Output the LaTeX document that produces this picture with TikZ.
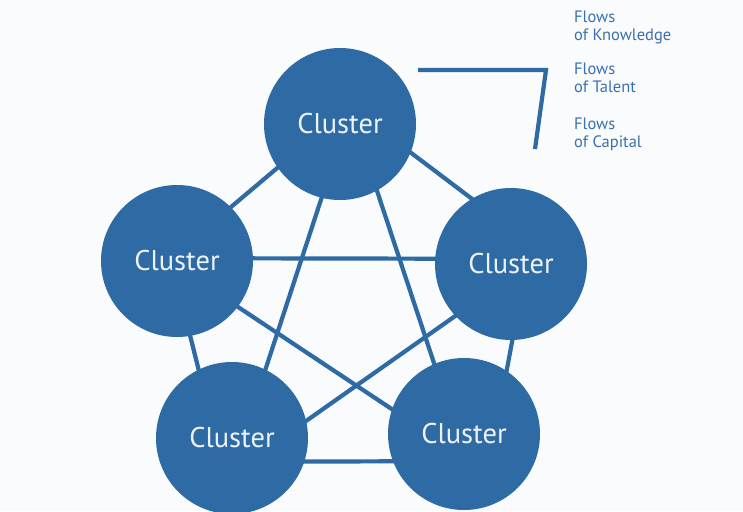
\documentclass[tikz,border=0pt]{standalone}
\usepackage{fontspec}
\setmainfont{PT Sans}
\definecolor{cluster}{HTML}{2E6AA4}
\definecolor{flowtext}{HTML}{3A70AE}
\definecolor{paper}{HTML}{FAFBFD}

\begin{document}
\begin{tikzpicture}[x=1pt,y=-1pt,
 cluster/.style={circle,fill=cluster,minimum size=152pt,inner sep=0pt,
   text=white!92!cluster,font=\fontsize{28.5}{30}\selectfont},
 link/.style={draw=cluster,line width=4.2pt,shorten <=-2pt,shorten >=-2pt},
 flows/.style={anchor=north west,inner sep=0pt,align=left,text=flowtext,
   font=\fontsize{16.5}{17.5}\selectfont}]

\useasboundingbox (0,0) rectangle (743,511);
\clip (0,0) rectangle (743,511);
\fill[paper] (0,0) rectangle (743,511);

% five clusters, the lower two run off the bottom edge
\node[cluster] (C1) at (340,124) {Cluster};
\node[cluster] (C2) at (177,261) {Cluster};
\node[cluster] (C3) at (511,264) {Cluster};
\node[cluster] (C4) at (232,438) {Cluster};
\node[cluster] (C5) at (464,434) {Cluster};

% every pair of clusters is linked; links do not run through the centres
\foreach \from/\to in {C1.215/C2.45, C1.338/C3.121, C1.256/C4.64,
    C1.299/C5.113, C2.2/C3.176, C2.280/C4.116, C2.323/C5.161,
    C3.223/C4.13, C3.271/C5.56, C4.342/C5.201}
  \draw[link] (\from) -- (\to);

% open bracket next to the legend
\coordinate (B1) at (418,70);
\coordinate (B2) at (546,70);
\coordinate (B3) at (535,149);
\draw[link,shorten <=0pt,shorten >=0pt,line join=miter] (B1) -- (B2) -- (B3);

\node[flows] (Fk) at (574,11) {Flows\\of Knowledge};
\node[flows] (Ft) at (574,63) {Flows\\of Talent};
\node[flows] (Fc) at (574,118) {Flows\\of Capital};
\end{tikzpicture}
\end{document}
